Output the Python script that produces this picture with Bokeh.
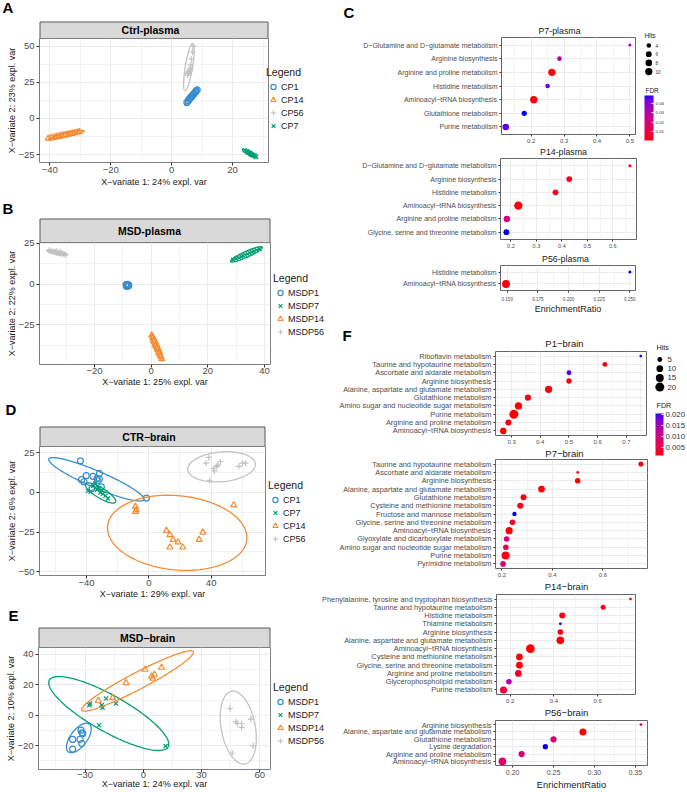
import numpy as np
from bokeh.plotting import figure
from bokeh.models import (Range1d, FixedTicker, Label, Legend, LegendItem, ColorBar,
                          LinearColorMapper, ColumnDataSource)
from bokeh.layouts import row, column
from bokeh.embed import file_html
from bokeh.resources import INLINE
from bokeh.core.properties import value

# ============================ DATA ============================
# ---- A : Ctrl-plasma (PLS-DA scores) ----
A_order = ["CP1", "CP14", "CP56", "CP7"]
A_x = {
    "CP1": [5.0, 5.4, 5.8, 6.0, 6.3, 6.6, 6.9, 7.2, 7.5, 7.8, 8.1, 8.4],
    "CP14": [-40.5, -39.5, -38.5, -37.8, -37.0, -36.2, -35.5, -34.8, -34.0, -33.2, -32.5, -31.8, -31.0, -30.3],
    "CP56": [7.0, 6.8, 6.5, 6.3, 6.0, 5.8, 5.6, 5.4, 5.2, 5.9, 6.2, 5.5],
    "CP7": [24.0, 24.6, 25.0, 25.4, 25.8, 26.1, 26.5, 26.9, 27.3, 27.7, 25.6, 26.3],
}
A_y = {
    "CP1": [11.0, 12.3, 13.2, 14.0, 14.6, 15.2, 16.0, 16.8, 17.5, 18.3, 19.0, 19.8],
    "CP14": [-13.8, -13.2, -12.9, -12.5, -12.1, -11.9, -11.4, -11.2, -10.8, -10.4, -10.2, -9.9, -9.5, -9.2],
    "CP56": [50.0, 46.0, 41.0, 37.0, 34.0, 32.5, 31.5, 31.0, 30.0, 33.0, 35.0, 32.0],
    "CP7": [-22.0, -22.6, -23.3, -23.7, -24.2, -24.6, -25.1, -25.5, -26.0, -26.6, -23.9, -25.2],
}
# confidence ellipses: centre x, centre y, semi-axis a (dx, dy), semi-axis b (dx, dy)
A_ell = {
    "CP1": (6.65, 15.35, 2.05, 5.45, 0.68, -1.16),
    "CP14": (-34.6, -11.5, 5.9, 3.0, 0.16, -1.34),
    "CP56": (5.65, 35.6, 1.25, 16.4, 1.18, -0.41),
    "CP7": (25.6, -24.3, 2.3, -2.75, -0.27, -1.0),
}
A_xrange, A_yrange = (-43.4, 31.8), (-30.5, 55.3)
A_xticks, A_xlabels, A_xminor = [-40, -20, 0, 20], ["−40", "−20", "0", "20"], [-30, -10, 10, 30]
A_yticks, A_ylabels, A_yminor = [-25, 0, 25, 50], ["−25", "0", "25", "50"], [-12.5, 12.5, 37.5]

# ---- B : MSD-plasma ----
B_order = ["MSDP1", "MSDP7", "MSDP14", "MSDP56"]
B_x = {
    "MSDP1": [-8.9, -8.6, -8.3, -8.0, -8.5, -8.2, -8.7, -7.9],
    "MSDP7": [29.0, 30.0, 31.0, 31.8, 32.5, 33.2, 34.0, 34.7, 35.5, 36.3, 37.2, 38.2],
    "MSDP14": [0.2, 0.5, 0.8, 1.0, 1.3, 1.6, 2.0, 2.3, 2.6, 3.0, 3.3, 3.7],
    "MSDP56": [-36.0, -35.3, -34.6, -34.0, -33.4, -32.8, -32.2, -31.5, -30.8, -30.2, -33.5, -32.0],
}
B_y = {
    "MSDP1": [-0.3, -1.5, -0.2, -1.1, -0.9, -0.5, -1.2, -0.6],
    "MSDP7": [15.0, 15.7, 16.2, 16.9, 17.4, 17.9, 18.5, 19.1, 19.7, 20.3, 21.0, 21.7],
    "MSDP14": [-31.5, -33.0, -34.5, -35.5, -37.0, -38.2, -39.5, -40.5, -42.0, -43.2, -44.5, -46.0],
    "MSDP56": [20.8, 20.2, 20.0, 19.6, 19.3, 19.2, 18.9, 18.7, 18.4, 18.1, 20.2, 19.8],
}
B_ell = {
    "MSDP1": (-8.35, -0.8, 0.9, 0.0, 0.0, 1.6),
    "MSDP7": (33.6, 18.3, 5.6, 4.4, 0.44, -1.68),
    "MSDP14": (2.05, -38.6, 2.05, -8.5, 0.76, 0.56),
    "MSDP56": (-33.2, 19.4, 3.6, -1.3, 0.3, 1.1),
}
B_xrange, B_yrange = (-39.4, 42.1), (-49.5, 25.6)
B_xticks, B_xlabels, B_xminor = [-20, 0, 20, 40], ["−20", "0", "20", "40"], [-30, -10, 10, 30]
B_yticks, B_ylabels, B_yminor = [-25, 0, 25], ["−25", "0", "25"], [-37.5, -12.5, 12.5]

# ---- D : CTR-brain ----
D_order = ["CP1", "CP7", "CP14", "CP56"]
D_x = {
    "CP1": [-43.9, -43.2, -41.7, -40.2, -35.9, -33.2, -31.7, -31.7, -32.7, -1.5, -36.5, -30.5],
    "CP7": [-39.1, -35.7, -34.2, -33.2, -31.0, -29.5, -27.8, -26.3, -37.4, -32.1, -34.5, -30.2],
    "CP14": [-8.6, -8.1, -8.6, 11.3, 13.5, 15.6, 18.8, 21.8, 13.5, 32.3, 34.7, 54.5],
    "CP56": [36.8, 38.5, 39.1, 42.1, 43.4, 44.3, 46.0, 57.8, 60.0, 62.0, 41.7],
}
D_y = {
    "CP1": [19.9, 8.0, 6.7, 10.5, 10.1, 8.8, 11.9, 8.4, 7.3, -3.6, 2.5, 3.5],
    "CP7": [1.0, 4.2, 3.1, 1.7, 0.0, -1.0, -2.1, -3.8, 0.4, 2.5, 5.5, 1.2],
    "CP14": [-9.0, -11.1, -12.2, -24.1, -26.8, -29.8, -31.4, -34.6, -34.6, -29.8, -25.2, -8.0],
    "CP56": [18.4, 22.0, 7.3, 13.6, 16.4, 17.2, 19.3, 16.4, 18.4, 18.4, 15.1],
}
D_ell = {
    "CP1": (-33.7, 8.2, 30.5, -12.8, -2.14, -4.8),
    "CP7": (-31.0, -0.4, 9.6, -5.75, -1.7, -2.7),
    "CP14": (18.2, -25.5, 44.7, -4.2, 2.2, 23.3),
    "CP56": (46.7, 16.1, 21.7, 1.5, 0.0, 9.4),
}
D_xrange, D_yrange = (-70.2, 74.9), (-52.4, 28.9)
D_xticks, D_xlabels, D_xminor = [-40, 0, 40], ["−40", "0", "40"], [-60, -20, 20, 60]
D_yticks, D_ylabels, D_yminor = [-50, -25, 0, 25], ["−50", "−25", "0", "25"], [-37.5, -12.5, 12.5]

# ---- E : MSD-brain ----
E_order = ["MSDP1", "MSDP7", "MSDP14", "MSDP56"]
E_x = {
    "MSDP1": [-36.4, -36.4, -32.1, -31.6, -31.2, -32.6, -31.7],
    "MSDP7": [-27.8, -27.4, -21.4, -19.2, -14.1, -22.8, 11.5, -21.0],
    "MSDP14": [-23.2, -15.8, -8.9, 0.9, 4.8, 4.3, 5.7, 9.4],
    "MSDP56": [44.6, 47.7, 48.5, 50.6, 50.6, 55.4, 56.6, 45.8],
}
E_y = {
    "MSDP1": [-22.4, -16.0, -9.9, -11.6, -12.1, -16.0, -18.7],
    "MSDP7": [6.6, 7.7, 6.6, 11.0, 7.7, -6.6, -20.4, 5.0],
    "MSDP14": [9.5, 11.4, 21.3, 30.1, 24.2, 25.7, 26.8, 31.4],
    "MSDP56": [4.4, -4.4, -5.5, -5.5, -8.1, -2.6, -20.2, -25.1],
}
E_ell = {
    "MSDP1": (-33.2, -15.0, 5.4, 9.15, 3.4, -3.3),
    "MSDP7": (-17.8, 1.1, 30.6, -22.0, -4.5, -10.5),
    "MSDP14": (-3.0, 22.5, 28.7, 19.25, 2.0, -4.9),
    "MSDP56": (48.9, -8.2, -3.0, 24.0, 8.8, 0.8),
}
E_xrange, E_yrange = (-54.0, 65.5), (-35.8, 44.6)
E_xticks, E_xlabels, E_xminor = [-30, 0, 30, 60], ["−30", "0", "30", "60"], [-45, -15, 15, 45]
E_yticks, E_ylabels, E_yminor = [-20, 0, 20, 40], ["−20", "0", "20", "40"], [-30, -10, 10, 30]

# ---- C : plasma pathway enrichment ----
P7p_path = ["D−Glutamine and D−glutamate metabolism", "Arginine biosynthesis", "Arginine and proline metabolism",
            "Histidine metabolism", "Aminoacyl−tRNA biosynthesis", "Glutathione metabolism", "Purine metabolism"]
P7p_ratio = [0.5, 0.286, 0.263, 0.25, 0.208, 0.179, 0.123]
P7p_hits = [3, 4, 10, 4, 10, 5, 8]
P7p_fdr = [0.036, 0.031, 0.002, 0.044, 0.001, 0.049, 0.045]
P7p_xrange = (0.11, 0.517)
P7p_xticks, P7p_xlabels, P7p_xminor = [0.2, 0.3, 0.4, 0.5], ["0.2", "0.3", "0.4", "0.5"], [0.15, 0.25, 0.35, 0.45]

P14p_path = ["D−Glutamine and D−glutamate metabolism", "Arginine biosynthesis", "Histidine metabolism",
             "Aminoacyl−tRNA biosynthesis", "Arginine and proline metabolism", "Glycine, serine and threonine metabolism"]
P14p_ratio = [0.667, 0.429, 0.375, 0.229, 0.184, 0.182]
P14p_hits = [4, 6, 6, 11, 7, 6]
P14p_fdr = [0.003, 0.002, 0.003, 0.0005, 0.022, 0.049]
P14p_xrange = (0.159, 0.693)
P14p_xticks, P14p_xlabels, P14p_xminor = [0.2, 0.3, 0.4, 0.5, 0.6], ["0.2", "0.3", "0.4", "0.5", "0.6"], [0.25, 0.35, 0.45, 0.55, 0.65]

P56p_path = ["Histidine metabolism", "Aminoacyl−tRNA biosynthesis"]
P56p_ratio = [0.25, 0.149]
P56p_hits = [4, 7]
P56p_fdr = [0.049, 0.001]
P56p_xrange = (0.1445, 0.2546)
P56p_xticks = [0.15, 0.175, 0.2, 0.225, 0.25]
P56p_xlabels = ["0.150", "0.175", "0.200", "0.225", "0.250"]
P56p_xminor = [0.1625, 0.1875, 0.2125, 0.2375]

plasma_fdr_range = (0.0, 0.049)
plasma_hits_breaks = [4, 6, 8, 10]
plasma_fdr_ticks, plasma_fdr_labels = [0.01, 0.02, 0.03, 0.04], ["0.01", "0.02", "0.03", "0.04"]

# ---- F : brain pathway enrichment ----
P1b_path = ["Riboflavin metabolism", "Taurine and hypotaurine metabolism", "Ascorbate and aldarate metabolism",
            "Arginine biosynthesis", "Alanine, aspartate and glutamate metabolism", "Glutathione metabolism",
            "Amino sugar and nucleotide sugar metabolism", "Purine metabolism", "Arginine and proline metabolism",
            "Aminoacyl−tRNA biosynthesis"]
P1b_ratio = [0.75, 0.625, 0.5, 0.5, 0.429, 0.357, 0.324, 0.308, 0.289, 0.271]
P1b_hits = [3, 5, 5, 6, 12, 8, 12, 20, 8, 9]
P1b_fdr = [0.0206, 0.002, 0.0195, 0.002, 0.001, 0.002, 0.001, 0.001, 0.002, 0.001]
P1b_xrange = (0.244, 0.77)
P1b_xticks, P1b_xlabels, P1b_xminor = [0.3, 0.4, 0.5, 0.6, 0.7], ["0.3", "0.4", "0.5", "0.6", "0.7"], [0.25, 0.35, 0.45, 0.55, 0.65, 0.75]

P7b_path = ["Taurine and hypotaurine metabolism", "Ascorbate and aldarate metabolism", "Arginine biosynthesis",
            "Alanine, aspartate and glutamate metabolism", "Glutathione metabolism", "Cysteine and methionine metabolism",
            "Fructose and mannose metabolism", "Glycine, serine and threonine metabolism", "Aminoacyl−tRNA biosynthesis",
            "Glyoxylate and dicarboxylate metabolism", "Amino sugar and nucleotide sugar metabolism",
            "Purine metabolism", "Pyrimidine metabolism"]
P7b_ratio = [0.75, 0.5, 0.5, 0.357, 0.286, 0.273, 0.25, 0.242, 0.229, 0.219, 0.216, 0.215, 0.205]
P7b_hits = [6, 4, 7, 10, 8, 8, 5, 7, 11, 7, 7, 14, 7]
P7b_fdr = [0.002, 0.002, 0.001, 0.001, 0.002, 0.002, 0.0206, 0.004, 0.001, 0.009, 0.007, 0.002, 0.009]
P7b_xrange = (0.175, 0.776)
P7b_xticks, P7b_xlabels, P7b_xminor = [0.2, 0.4, 0.6], ["0.2", "0.4", "0.6"], [0.3, 0.5, 0.7]

P14b_path = ["Phenylalanine, tyrosine and tryptophan biosynthesis", "Taurine and hypotaurine metabolism",
             "Histidine metabolism", "Thiamine metabolism", "Arginine biosynthesis",
             "Alanine, aspartate and glutamate metabolism", "Aminoacyl−tRNA biosynthesis",
             "Cysteine and methionine metabolism", "Glycine, serine and threonine metabolism",
             "Arginine and proline metabolism", "Glycerophospholipid metabolism", "Purine metabolism"]
P14b_ratio = [0.75, 0.625, 0.438, 0.429, 0.429, 0.429, 0.292, 0.242, 0.242, 0.237, 0.194, 0.169]
P14b_hits = [3, 5, 7, 3, 6, 12, 16, 9, 9, 9, 6, 10]
P14b_fdr = [0.003, 0.002, 0.002, 0.0206, 0.002, 0.001, 0.001, 0.002, 0.002, 0.003, 0.014, 0.005]
P14b_xrange = (0.137, 0.773)
P14b_xticks, P14b_xlabels, P14b_xminor = [0.2, 0.4, 0.6], ["0.2", "0.4", "0.6"], [0.3, 0.5, 0.7]

P56b_path = ["Arginine biosynthesis", "Alanine, aspartate and glutamate metabolism", "Glutathione metabolism",
             "Lysine degradation", "Arginine and proline metabolism", "Aminoacyl−tRNA biosynthesis"]
P56b_ratio = [0.357, 0.286, 0.25, 0.24, 0.211, 0.1875]
P56b_hits = [5, 8, 7, 6, 7, 9]
P56b_fdr = [0.006, 0.001, 0.009, 0.0206, 0.009, 0.008]
P56b_xrange = (0.179, 0.365)
P56b_xticks, P56b_xlabels, P56b_xminor = [0.2, 0.25, 0.3, 0.35], ["0.20", "0.25", "0.30", "0.35"], [0.225, 0.275, 0.325]

brain_fdr_range = (0.0014, 0.0206)
brain_hits_breaks = [5, 10, 15, 20]
brain_fdr_ticks, brain_fdr_labels = [0.005, 0.01, 0.015, 0.02], ["0.005", "0.010", "0.015", "0.020"]

# ============================ STYLE ============================
SANS = "Liberation Sans"
GRID = "#ebebeb"
FRAME = "#7f7f7f"
STRIP_FILL = "#d9d9d9"
STRIP_LINE = "#595959"
TICKLAB = "#4d4d4d"
GCOL = {"1": "#388ECC", "14": "#F68B33", "56": "#C2C2C2", "7": "#009E73"}
GMARK = {"1": "circle", "14": "triangle", "56": "cross", "7": "x"}
LW = 330          # left column width
RX = 330          # right column origin
PW = 640 - RX     # plasma panel width
BW = 650 - RX     # brain panel width
OV = 8            # overlap of a score panel onto its facet strip (tick labels may reach into it)
RB = 6            # right border kept by a score panel (end tick labels)
KO = 6            # overlap of a legend figure onto the panel's right edge


def grp_key(g):
    return g.replace("MSDP", "").replace("CP", "")


# red -> blue gradient interpolated in CIE Lab (as ggplot2 does)
_M = np.array([[0.4124564, 0.3575761, 0.1804375], [0.2126729, 0.7151522, 0.0721750],
               [0.0193339, 0.1191920, 0.9503041]])
_W = np.array([0.95047, 1.0, 1.08883])


def _to_lab(h):
    rgb = np.array([int(h[i:i + 2], 16) / 255 for i in (1, 3, 5)])
    lin = np.where(rgb <= 0.04045, rgb / 12.92, ((rgb + 0.055) / 1.055) ** 2.4)
    xyz = _M @ lin / _W
    d = 6 / 29
    f = np.where(xyz > d ** 3, np.cbrt(xyz), xyz / (3 * d * d) + 4 / 29)
    return np.array([116 * f[1] - 16, 500 * (f[0] - f[1]), 200 * (f[1] - f[2])])


def _from_lab(lab):
    d = 6 / 29
    fy = (lab[0] + 16) / 116
    f = np.array([fy + lab[1] / 500, fy, fy - lab[2] / 200])
    xyz = np.where(f > d, f ** 3, 3 * d * d * (f - 4 / 29)) * _W
    lin = np.clip(np.linalg.inv(_M) @ xyz, 0, 1)
    rgb = np.where(lin <= 0.0031308, 12.92 * lin, 1.055 * lin ** (1 / 2.4) - 0.055)
    rgb = np.clip(np.round(rgb * 255), 0, 255).astype(int)
    return "#%02x%02x%02x" % tuple(rgb)


L0, L1 = _to_lab("#ff0000"), _to_lab("#0000ff")
PAL = [_from_lab(L0 + (L1 - L0) * t) for t in np.linspace(0, 1, 256)]
plasma_mapper = LinearColorMapper(palette=PAL, low=plasma_fdr_range[0], high=plasma_fdr_range[1])
brain_mapper = LinearColorMapper(palette=PAL, low=brain_fdr_range[0], high=brain_fdr_range[1])


def style_axis(ax, ticks, labels, minor, fs, tick_out=3, standoff=0):
    ax.ticker = FixedTicker(ticks=ticks, minor_ticks=minor)
    ax.major_label_overrides = dict(zip(ticks, labels))
    ax.major_label_text_font = SANS
    ax.major_label_text_font_size = f"{fs}px"
    ax.major_label_text_color = TICKLAB
    ax.axis_line_color = None
    ax.major_tick_line_color = "#333333"
    ax.major_tick_out = tick_out
    ax.major_tick_in = 0
    ax.minor_tick_line_color = None
    ax.major_label_standoff = standoff


def blank(w, h, xr, yr):
    f = figure(width=w, height=h, x_range=Range1d(*xr), y_range=Range1d(*yr),
               x_axis_location=None, y_axis_location=None, min_border=0, toolbar_location=None,
               output_backend="svg", frame_align=False)
    f.grid.visible = False
    f.outline_line_color = None
    f.background_fill_alpha = 0
    f.border_fill_alpha = 0
    return f


def header(x0, top, w, h, texts, strip=None):
    """Text-only strip of the page (letters, facet strips, panel titles), in page pixels."""
    f = blank(w, h, (x0, x0 + w), (top + h, top))
    if strip is not None:
        l, r, t, b = strip
        f.quad(left=l + 0.5, right=r - 0.5, top=t + 0.5, bottom=b, fill_color=STRIP_FILL,
               line_color=STRIP_LINE, line_width=1)
    for txt, x, y, align, fs, bold in texts:
        f.add_layout(Label(x=x, y=y, text=txt, text_align=align, text_baseline="middle", text_font=SANS,
                           text_font_size=f"{fs}px", text_font_style="bold" if bold else "normal",
                           text_color="black" if bold else "#1a1a1a"))
    return f


# ============================ SCORE PANELS ============================
def score_panel(letter, strip_text, order, xs, ys, ells, xr, yr, xt, xl, xm, yt, yl, ym, xtitle, ytitle, g):
    ft, fb, fr = g["ft"], g["fb"], g["fr"]
    hdr = header(0, g["top"], LW, ft - g["top"],
                 [(letter, g["lx"], g["ly"], "left", 15, True),
                  (strip_text, g["scx"], (g["st"] + ft) / 2, "center", 10.5, True)],
                 strip=(g["fl"], fr, g["st"], ft))
    mh = g["bottom"] - ft + OV
    p = figure(width=fr + RB, height=mh, x_range=Range1d(*xr), y_range=Range1d(*yr), toolbar_location=None,
               output_backend="svg", frame_align=False, min_border_left=g["fl"], min_border_right=RB,
               min_border_top=OV, min_border_bottom=g["bottom"] - fb)
    p.border_fill_alpha = 0
    p.outline_line_color = FRAME
    style_axis(p.xaxis[0], xt, xl, xm, 9.5, standoff=g["xs"][0])
    style_axis(p.yaxis[0], yt, yl, ym, 9.5, standoff=1)
    for ax, t, so in ((p.xaxis[0], xtitle, g["xs"][1]), (p.yaxis[0], ytitle, -2)):
        ax.axis_label = t
        ax.axis_label_text_font = SANS
        ax.axis_label_text_font_size = "9px"
        ax.axis_label_text_font_style = "normal"
        ax.axis_label_text_color = "#1a1a1a"
        ax.axis_label_standoff = so
    for gr in (p.xgrid[0], p.ygrid[0]):
        gr.grid_line_color = GRID
        gr.grid_line_width = 1.1
        gr.minor_grid_line_color = GRID
        gr.minor_grid_line_width = 0.6

    # legend figure to the right of the panel (the legend lives inside its own frame)
    kx = fr - KO
    k = blank(LW - kx, mh, (0, 1), (0, 1))
    k.margin = (0, 0, 0, -(RB + KO))

    t = np.linspace(0, 2 * np.pi, 160)
    items = []
    for grp in order:
        kk = grp_key(grp)
        col = GCOL[kk]
        cx, cy, ax_, ay_, bx_, by_ = ells[grp]
        p.line(cx + ax_ * np.cos(t) + bx_ * np.sin(t), cy + ay_ * np.cos(t) + by_ * np.sin(t),
               line_color=col, line_width=1.3)
        p.scatter(xs[grp], ys[grp], marker=GMARK[kk], size=6, line_color=col, fill_color=None, line_width=1.2)
        # key glyph: one off-frame sample so that the legend can paint the marker
        kr = k.scatter(x=[-5.0], y=[-5.0], marker=GMARK[kk], size=6, line_color=col, fill_color=None,
                       line_width=1.2)
        items.append(LegendItem(label=grp, renderers=[kr]))
    LEG_H = 12 + 2 + 4 * 13
    leg = Legend(items=items, title="Legend",
                 location=(g["gx"] - kx, g["bottom"] - (g["gy"] - 6 + LEG_H)),
                 padding=0, margin=0, spacing=0, glyph_height=13, glyph_width=14, label_height=13,
                 label_standoff=1, title_standoff=2, border_line_color=None, background_fill_alpha=0,
                 title_text_font=SANS, title_text_font_size="10.5px", title_text_font_style="normal",
                 title_text_color="#1a1a1a", label_text_font=SANS, label_text_font_size="9px",
                 label_text_color="#1a1a1a")
    k.add_layout(leg)
    body = row(p, k, spacing=0)
    body.margin = (-OV, 0, 0, 0)
    return column(hdr, body, spacing=0)


GA = dict(top=0, st=21, ft=38, fb=162, bottom=195, fl=39, fr=268, lx=2, ly=7, scx=150, gx=266, gy=72, xs=(0, 1))
GB = dict(top=195, st=218, ft=242, fb=364, bottom=395, fl=39, fr=270, lx=2, ly=208, scx=149, gx=273, gy=278, xs=(-1, 0))
GD = dict(top=395, st=426, ft=446, fb=575, bottom=601, fl=39, fr=265, lx=5, ly=409, scx=148.5, gx=268, gy=485, xs=(0, 0))
GE = dict(top=601, st=627, ft=647, fb=769, bottom=792, fl=38, fr=270, lx=8, ly=615, scx=147, gx=273, gy=687, xs=(-2, -2))

A_blk = score_panel("A", "Ctrl-plasma", A_order, A_x, A_y, A_ell, A_xrange, A_yrange, A_xticks, A_xlabels,
                    A_xminor, A_yticks, A_ylabels, A_yminor, "X−variate 1: 24% expl. var",
                    "X−variate 2: 23% expl. var", GA)
B_blk = score_panel("B", "MSD-plasma", B_order, B_x, B_y, B_ell, B_xrange, B_yrange, B_xticks, B_xlabels,
                    B_xminor, B_yticks, B_ylabels, B_yminor, "X−variate 1: 25% expl. var",
                    "X−variate 2: 22% expl. var", GB)
D_blk = score_panel("D", "CTR−brain", D_order, D_x, D_y, D_ell, D_xrange, D_yrange, D_xticks, D_xlabels,
                    D_xminor, D_yticks, D_ylabels, D_yminor, "X−variate 1: 29% expl. var",
                    "X−variate 2: 6% expl. var", GD)
E_blk = score_panel("E", "MSD−brain", E_order, E_x, E_y, E_ell, E_xrange, E_yrange, E_xticks, E_xlabels,
                    E_xminor, E_yticks, E_ylabels, E_yminor, "X−variate 1: 24% expl. var",
                    "X−variate 2: 10% expl. var", GE)


# ============================ PATHWAY PANELS ============================
def path_panel(names, ratio, hits, fdr, xr, xt, xl, xm, g, x0, width, dsz, cat_fs, tick_fs, mapper,
               xtitle=None, x_so=(0, 0)):
    n = len(names)
    pos = list(range(n, 0, -1))
    hmin, hmax = min(hits), max(hits)
    size = [dsz[0] + (dsz[1] - dsz[0]) * np.sqrt((h - hmin) / (hmax - hmin)) for h in hits]
    src = ColumnDataSource(dict(ratio=ratio, pos=pos, size=size, fdr=fdr))
    p = figure(width=width, height=g["bottom"] - g["ft"], x_range=Range1d(*xr),
               y_range=Range1d(0.45, n + 0.55), toolbar_location=None, output_backend="svg",
               frame_align=False, min_border_left=g["fl"] - x0, min_border_right=x0 + width - g["fr"],
               min_border_top=0, min_border_bottom=g["bottom"] - g["fb"])
    p.border_fill_alpha = 0
    p.outline_line_color = "#666666"
    style_axis(p.xaxis[0], xt, xl, xm, tick_fs, tick_out=2, standoff=x_so[0])
    style_axis(p.yaxis[0], pos, names, [], cat_fs, tick_out=2, standoff=2)
    if xtitle is not None:
        p.xaxis[0].axis_label = xtitle[0]
        p.xaxis[0].axis_label_text_font = SANS
        p.xaxis[0].axis_label_text_font_size = f"{xtitle[1]}px"
        p.xaxis[0].axis_label_text_font_style = "normal"
        p.xaxis[0].axis_label_text_color = "#1a1a1a"
        p.xaxis[0].axis_label_standoff = x_so[1]
    p.xgrid[0].grid_line_color = GRID
    p.xgrid[0].minor_grid_line_color = GRID
    p.xgrid[0].minor_grid_line_width = 0.6
    p.ygrid[0].grid_line_color = GRID
    p.scatter("ratio", "pos", size="size", source=src, line_color=None,
              fill_color={"field": "fdr", "transform": mapper})
    return p


RP7 = dict(top=0, ft=37, fb=134, bottom=145, fl=501, fr=635)
RP14 = dict(top=145, ft=158, fb=239, bottom=252, fl=500, fr=636)
RP56 = dict(top=252, ft=265, fb=290, bottom=322, fl=500, fr=635)
RB1 = dict(top=322, ft=351, fb=435, bottom=447, fl=495, fr=646)
RB7 = dict(top=447, ft=459, fb=569, bottom=579, fl=495, fr=647)
RB14 = dict(top=579, ft=594, fb=694, bottom=705, fl=495, fr=647)
RB56 = dict(top=705, ft=720, fb=769, bottom=792, fl=495, fr=647)

P7p = path_panel(P7p_path, P7p_ratio, P7p_hits, P7p_fdr, P7p_xrange, P7p_xticks, P7p_xlabels, P7p_xminor,
                 RP7, RX, PW, (3.0, 7.3), 7, 6, plasma_mapper)
P14p = path_panel(P14p_path, P14p_ratio, P14p_hits, P14p_fdr, P14p_xrange, P14p_xticks, P14p_xlabels,
                  P14p_xminor, RP14, RX, PW, (3.0, 8.3), 7, 5.5, plasma_mapper)
P56p = path_panel(P56p_path, P56p_ratio, P56p_hits, P56p_fdr, P56p_xrange, P56p_xticks, P56p_xlabels,
                  P56p_xminor, RP56, RX, PW, (3.0, 8.0), 7, 4.6, plasma_mapper,
                  xtitle=("EnrichmentRatio", 9), x_so=(2, 0))
P1b = path_panel(P1b_path, P1b_ratio, P1b_hits, P1b_fdr, P1b_xrange, P1b_xticks, P1b_xlabels, P1b_xminor,
                 RB1, RX, BW, (2.7, 9.0), 7.4, 6, brain_mapper)
P7b = path_panel(P7b_path, P7b_ratio, P7b_hits, P7b_fdr, P7b_xrange, P7b_xticks, P7b_xlabels, P7b_xminor,
                 RB7, RX, BW, (2.7, 8.0), 7.4, 6, brain_mapper)
P14b = path_panel(P14b_path, P14b_ratio, P14b_hits, P14b_fdr, P14b_xrange, P14b_xticks, P14b_xlabels,
                  P14b_xminor, RB14, RX - 12, BW + 12, (2.7, 8.7), 7.4, 6, brain_mapper)
P14b.margin = (0, 0, 0, -12)
P56b = path_panel(P56b_path, P56b_ratio, P56b_hits, P56b_fdr, P56b_xrange, P56b_xticks, P56b_xlabels,
                  P56b_xminor, RB56, RX, BW, (2.7, 7.7), 7.4, 7, brain_mapper,
                  xtitle=("EnrichmentRatio", 9.4), x_so=(0, 1))

H7p = header(RX, 0, PW, 37, [("C", 343, 11.5, "left", 15, True), ("P7-plasma", 559, 30, "center", 8.8, False)])
H14p = header(RX, 145, PW, 13, [("P14-plasma", 563, 151, "center", 8.8, False)])
H56p = header(RX, 252, PW, 13, [("P56-plasma", 565, 258, "center", 8.8, False)])
H1b = header(RX, 322, BW, 29, [("F", 342, 335, "left", 15, True), ("P1−brain", 564, 343, "center", 9.5, False)])
H7b = header(RX, 447, BW, 12, [("P7−brain", 564, 452.5, "center", 9.5, False)])
H14b = header(RX, 579, BW, 15, [("P14−brain", 566, 586, "center", 9.5, False)])
H56b = header(RX, 705, BW, 15, [("P56−brain", 566, 711.5, "center", 9.5, False)])


# ============================ KEYS (Hits + FDR) ============================
def key_panel(x0, y0, kw, kh, breaks, ref_hits, dsz, hits_at, dot_x, dot_y0, dot_dy, lab_x, title_fs, lab_fs,
              fdr_at, cb_left, cb_top, cb_w, cb_h, cb_ticks, cb_labels, cb_fs, mapper):
    k = blank(kw, kh, (x0, x0 + kw), (y0 + kh, y0))
    hmin, hmax = min(ref_hits), max(ref_hits)
    bs = [dsz[0] + (dsz[1] - dsz[0]) * np.sqrt((b - hmin) / (hmax - hmin)) for b in breaks]
    ys = [dot_y0 + i * dot_dy for i in range(len(breaks))]
    k.scatter(x=[dot_x] * len(breaks), y=ys, size=bs, fill_color="black", line_color=None)
    k.text(x=[lab_x] * len(breaks), y=ys, text=[str(b) for b in breaks], text_font=value(SANS),
           text_font_size=value(f"{lab_fs}px"), text_baseline="middle", text_color="#333333")
    k.add_layout(Label(x=hits_at[0], y=hits_at[1], text="Hits", text_baseline="middle", text_font=SANS,
                       text_font_size=f"{title_fs}px", text_color="#1a1a1a"))
    k.add_layout(Label(x=fdr_at[0], y=fdr_at[1], text="FDR", text_baseline="middle", text_font=SANS,
                       text_font_size=f"{title_fs}px", text_color="#1a1a1a"))
    cb = ColorBar(color_mapper=mapper, ticker=FixedTicker(ticks=cb_ticks),
                  major_label_overrides=dict(zip(cb_ticks, cb_labels)), width=cb_w, height=cb_h,
                  location=(cb_left - x0, (y0 + kh) - (cb_top + cb_h)), padding=0, margin=0,
                  label_standoff=2, major_label_text_font=SANS, major_label_text_font_size=f"{cb_fs}px",
                  major_label_text_color="#333333", major_tick_line_color="white", major_tick_in=2,
                  major_tick_out=0, bar_line_color=None, border_line_color=None, background_fill_alpha=0)
    k.add_layout(cb)
    return k


key_p = key_panel(640, 0, 47, 150, plasma_hits_breaks, P7p_hits, (3.0, 7.3), (644, 35), 648.3, 45, 8.7, 655,
                  6.4, 4.5, (645, 90), 644, 95, 9, 45, plasma_fdr_ticks, plasma_fdr_labels, 4.4, plasma_mapper)
key_b = key_panel(650, 322, 37, 140, brain_hits_breaks, P1b_hits, (2.7, 9.0), (656, 347), 659.3, 359, 9.2, 667,
                  7.2, 7.8, (656, 405), 655, 413, 8, 42, brain_fdr_ticks, brain_fdr_labels, 7.8, brain_mapper)

left_col = column(A_blk, B_blk, D_blk, E_blk, spacing=0)
plasma_col = column(H7p, P7p, H14p, P14p, H56p, P56p, spacing=0)
brain_col = column(H1b, P1b, H7b, P7b, H14b, P14b, H56b, P56b, spacing=0)
right_col = column(row(plasma_col, key_p, spacing=0), row(brain_col, key_b, spacing=0), spacing=0)
root = row(left_col, right_col, spacing=0)

open("out.html", "w").write(file_html(root, INLINE, title="Figure"))
